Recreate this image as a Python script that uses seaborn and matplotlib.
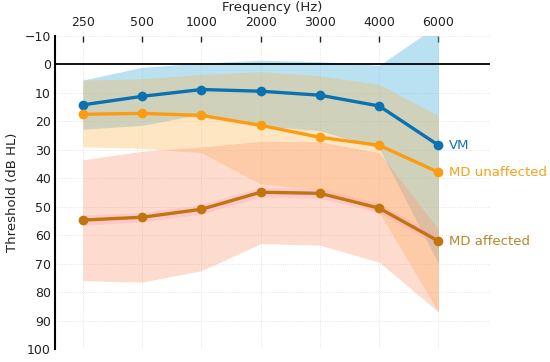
import numpy as np
import pandas as pd
import matplotlib as mpl
mpl.use('Agg')
import matplotlib.pyplot as plt
import seaborn as sns

# audiogram thresholds (dB HL)
freqs = ['250', '500', '1000', '2000', '3000', '4000', '6000']
groups = ['VM', 'MD unaffected', 'MD affected']

vm_mean = [14.2, 11.2, 8.8, 9.4, 10.8, 14.6, 28.4]
vm_lo = [5.5, 1.0, -0.5, -1.5, -1.0, 0.3, -14.0]
vm_hi = [22.8, 21.4, 17.5, 21.5, 23.3, 29.5, 70.0]

unaff_mean = [17.5, 17.2, 17.9, 21.4, 25.6, 28.4, 37.9]
unaff_lo = [5.5, 5.0, 3.5, 2.5, 4.0, 7.0, 18.0]
unaff_hi = [29.0, 29.5, 31.0, 42.0, 44.0, 52.0, 87.0]

aff_mean = [54.7, 53.7, 50.9, 44.9, 45.3, 50.5, 62.1]
aff_lo = [33.5, 30.5, 29.0, 27.0, 27.2, 31.0, 58.0]
aff_hi = [76.0, 76.5, 72.5, 63.0, 63.5, 69.5, 87.0]
aff_ci_lo = [53.0, 52.0, 49.2, 43.2, 43.6, 48.8, 60.4]
aff_ci_hi = [56.4, 55.4, 52.6, 46.6, 47.0, 52.2, 63.8]

line_cols = {'VM': '#0a72b0', 'MD unaffected': '#fb9c12', 'MD affected': '#c0750d'}
fill_cols = {'VM': '#5cb8e2', 'MD unaffected': '#ffb246', 'MD affected': '#fb9a74'}
label_cols = {'VM': '#1572b0', 'MD unaffected': '#f5a21c', 'MD affected': '#b8862c'}

df = pd.DataFrame({
    'freq': freqs * 3,
    'threshold': vm_mean + unaff_mean + aff_mean,
    'group': sum([[g] * len(freqs) for g in groups], []),
})


def main():
    sns.set_style('white')
    plt.rcParams['font.family'] = ['DejaVu Sans']
    fig = plt.figure(figsize=(5.5, 3.62), dpi=100)
    ax = fig.add_axes([0.1, 0.036, 0.791, 0.8645])

    x = np.arange(len(freqs))
    ax.fill_between(x, vm_lo, vm_hi, color=fill_cols['VM'], alpha=0.42, lw=0, zorder=1)
    ax.fill_between(x, unaff_lo, unaff_hi, color=fill_cols['MD unaffected'], alpha=0.32, lw=0, zorder=1)
    ax.fill_between(x, aff_lo, aff_hi, color=fill_cols['MD affected'], alpha=0.35, lw=0, zorder=1)
    ax.fill_between(x, aff_ci_lo, aff_ci_hi, color='#ff9fc0', alpha=0.3, lw=0, zorder=1)

    sns.lineplot(data=df, x='freq', y='threshold', hue='group', hue_order=groups,
                 palette=line_cols, marker='o', markersize=7, markeredgewidth=0,
                 linewidth=2.4, legend=False, ax=ax, zorder=3)

    ax.axhline(0, color='black', lw=1.3, zorder=2)

    ends = {'VM': vm_mean[-1], 'MD unaffected': unaff_mean[-1], 'MD affected': aff_mean[-1]}
    for g in groups:
        ax.text(len(freqs) - 1 + 0.18, ends[g], g, color=label_cols[g], fontsize=9.5,
                va='center', ha='left', clip_on=False)

    ax.set_xlim(-0.47, 6.87)
    ax.set_ylim(100, -10)
    ax.set_yticks(np.arange(-10, 101, 10))
    ax.set_xticks(x)
    ax.set_xticklabels(freqs)
    ax.xaxis.tick_top()
    ax.xaxis.set_label_position('top')
    ax.set_xlabel('Frequency (Hz)', fontsize=9.5, labelpad=4, color='#222222')
    ax.set_ylabel('Threshold (dB HL)', fontsize=9.5, labelpad=4, color='#222222')
    ax.tick_params(axis='x', direction='in', length=4, width=1, pad=5, labelsize=9, colors='#222222')
    ax.tick_params(axis='y', direction='in', length=5, width=1.2, pad=3, labelsize=9, colors='#222222')

    ax.grid(True, ls=':', lw=0.6, color='#dddddd')
    ax.set_axisbelow(True)
    for s in ['top', 'right', 'bottom']:
        ax.spines[s].set_visible(False)
    ax.spines['left'].set_color('black')
    ax.spines['left'].set_linewidth(1.5)

    plt.savefig('out.png', dpi=100)


if __name__ == '__main__':
    main()
